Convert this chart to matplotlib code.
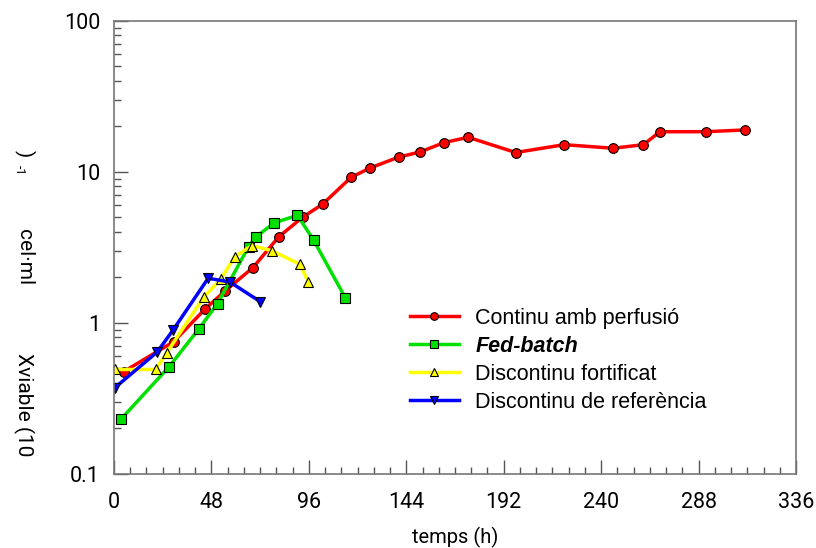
import numpy as np
import matplotlib.pyplot as plt
from matplotlib.ticker import FixedLocator, MultipleLocator, NullFormatter

# Continu amb perfusió
t_cont = [4.9, 29.5, 44.8, 54.9, 68.5, 81.2, 93.0, 102.8, 116.9, 126.3, 140.3,
          150.7, 162.7, 174.5, 197.9, 221.8, 245.9, 260.8, 269.0, 291.5, 310.9]
x_cont = [0.475, 0.75, 1.23, 1.63, 2.32, 3.71, 5.0, 6.1, 9.2, 10.6, 12.5,
          13.5, 15.6, 16.9, 13.4, 15.1, 14.3, 15.1, 18.4, 18.4, 18.9]

# Fed-batch
t_fed = [3.6, 27.1, 41.8, 51.0, 66.3, 69.8, 78.9, 90.4, 98.4, 114.0]
x_fed = [0.231, 0.51, 0.91, 1.34, 3.19, 3.68, 4.59, 5.14, 3.51, 1.46]

# Discontinu fortificat
t_fort = [0.5, 20.5, 25.9, 44.1, 52.8, 59.5, 68.0, 77.7, 91.5, 95.8]
x_fort = [0.49, 0.49, 0.63, 1.47, 1.96, 2.74, 3.24, 3.0, 2.44, 1.85]

# Discontinu de referència
t_ref = [0.3, 21.3, 29.0, 46.4, 57.1, 72.0]
x_ref = [0.37, 0.64, 0.89, 1.97, 1.86, 1.38]

fig = plt.figure(figsize=(8.16, 5.48), dpi=100)
ax = fig.add_axes([114 / 816, 1 - 473.7 / 548, 682 / 816, 453 / 548])

edge = 'black'
ax.plot(t_cont, x_cont, color='#ff0000', lw=2.5, marker='o', ms=7,
        mfc='#ff0000', mec=edge, mew=0.8, label='Continu amb perfusió')
ax.plot(t_fed, x_fed, color='#00e000', lw=2.5, marker='s', ms=6.5,
        mfc='#00e000', mec=edge, mew=0.8, label='Fed-batch')
ax.plot(t_fort, x_fort, color='#ffff00', lw=2.5, marker='^', ms=7,
        mfc='#ffff00', mec=edge, mew=0.8, label='Discontinu fortificat')
ax.plot(t_ref, x_ref, color='#0000ff', lw=2.5, marker='v', ms=7,
        mfc='#0000ff', mec=edge, mew=0.8, label='Discontinu de referència')

ax.set_yscale('log')
ax.set_xlim(0, 336)
ax.set_ylim(0.1, 100)
ax.xaxis.set_major_locator(MultipleLocator(48))
ax.xaxis.set_minor_locator(MultipleLocator(8))
ax.yaxis.set_major_locator(FixedLocator([0.1, 1, 10, 100]))
ax.yaxis.set_minor_formatter(NullFormatter())
ax.set_yticklabels(['0.1', '1', '10', '100'])

for s in ax.spines.values():
    s.set_color('#777777')
    s.set_linewidth(1.2)
ax.tick_params(which='both', direction='in', color='#555555',
               top=False, right=False, labelsize=15.5)
ax.tick_params(axis='x', pad=13)
ax.tick_params(axis='y', pad=10)
ax.tick_params(which='major', length=10, width=1)
ax.tick_params(which='minor', length=5, width=1)
for lab in ax.get_xticklabels() + ax.get_yticklabels():
    lab.set_fontfamily('Roboto')

# x label placed directly so it stays inside the figure
fig.text(455 / 816, 1 - 537 / 548, 'temps (h)', ha='center', va='center',
         fontsize=14.5, family='Roboto')

# y label as it appears in the original, in broken pieces
fig.text(24 / 816, 1 - 405 / 548, 'Xviable (10', rotation=270, ha='center',
         va='center', fontsize=15, family='Roboto')
fig.text(24 / 816, 1 - 257 / 548, 'cel·ml', rotation=270, ha='center',
         va='center', fontsize=15, family='Roboto')
fig.text(24 / 816, 1 - 154 / 548, ')', rotation=270, ha='center',
         va='center', fontsize=15, family='Roboto')
fig.text(19 / 816, 1 - 170 / 548, '-1', rotation=270, ha='center',
         va='center', fontsize=9, family='Roboto')

leg = ax.legend(loc='upper left', bbox_to_anchor=(0.421, 0.385), frameon=False,
                prop={'family': 'Liberation Sans', 'size': 15.5},
                handlelength=2.3, handletextpad=0.75, labelspacing=0.32,
                borderaxespad=0)
leg.get_texts()[1].set_fontstyle('italic')
leg.get_texts()[1].set_fontweight('bold')
for h in leg.legend_handles:
    h.set_markersize(5.5)

fig.savefig('out.png', dpi=100)
